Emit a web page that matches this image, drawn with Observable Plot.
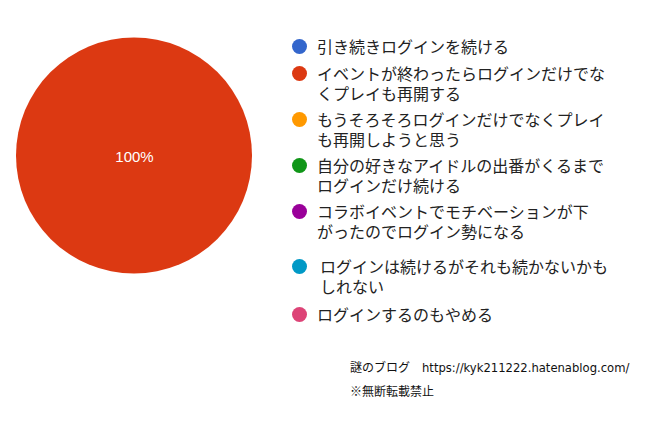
<!DOCTYPE html>
<html>
<head>
<meta charset="utf-8">
<script src="https://cdn.jsdelivr.net/npm/d3@7"></script>
<script src="https://cdn.jsdelivr.net/npm/@observablehq/plot@0.6"></script>
<style>
  html, body { margin: 0; padding: 0; background: #fff; }
  #wrap { position: relative; width: 655px; height: 421px; overflow: hidden; }
  #pie { position: absolute; left: 0; top: 0; }
  .item { position: absolute; left: 292px; display: flex; align-items: flex-start;
          font-family: "Noto Sans CJK JP", "Noto Sans", sans-serif; font-size: 16px;
          line-height: 20px; color: #222; white-space: pre-line; }
  .dot { width: 15px; height: 15px; border-radius: 50%; margin-top: 2.5px; margin-right: 10px; flex: none; }
  .caption { position: absolute; left: 350px; font-family: "Noto Sans CJK JP", sans-serif;
             font-size: 12px; color: #111; white-space: pre; }
  .caption .latin { font-family: "DejaVu Sans", sans-serif; font-size: 11.6px; }
</style>
</head>
<body>
<div id="wrap"><div id="pie"></div></div>
<script>
// ---- data ----
const categories = [
  "引き続きログインを続ける",
  "イベントが終わったらログインだけでな\nくプレイも再開する",
  "もうそろそろログインだけでなくプレイ\nも再開しようと思う",
  "自分の好きなアイドルの出番がくるまで\nログインだけ続ける",
  "コラボイベントでモチベーションが下\nがったのでログイン勢になる",
  "ログインは続けるがそれも続かないかも\nしれない",
  "ログインするのもやめる"
];
const values = [0, 100, 0, 0, 0, 0, 0];
const colors = ["#3366cc", "#dc3912", "#ff9900", "#109618", "#990099", "#0099c6", "#dd4477"];
const captionLines = ["謎のブログ　https://kyk211222.hatenablog.com/", "※無断転載禁止"];

// ---- pie geometry from data ----
const total = d3.sum(values);
const arcs = d3.pie().sort(null).value(d => d.value)(
  categories.map((c, i) => ({ category: c, value: values[i], color: colors[i] }))
);
const slices = arcs.filter(a => a.value > 0).map(a => {
  const frac = a.value / total;
  const mid = (a.startAngle + a.endAngle) / 2;
  const lx = frac >= 1 ? 0 : Math.sin(mid) * 0.6;
  const ly = frac >= 1 ? 0 : Math.cos(mid) * 0.6;
  return { ...a, lx, ly, label: Math.round(frac * 100) + "%" };
});

function pieMark(index, scales) {
  const g = d3.create("svg:g");
  const cx = scales.x(0), cy = scales.y(0);
  const r = Math.abs(scales.x(1) - scales.x(0));
  const arc = d3.arc().innerRadius(0).outerRadius(r);
  g.selectAll("path").data(slices).join("path")
    .attr("transform", `translate(${cx},${cy})`)
    .attr("d", d => arc(d))
    .attr("fill", d => d.data.color)
    .attr("stroke", "none");
  return g.node();
}

const chart = Plot.plot({
  width: 268,
  height: 311,
  margin: 0,
  x: { domain: [-1, 1], range: [16, 252], axis: null },
  y: { domain: [-1, 1], range: [273.5, 37.5], axis: null },
  style: { background: "transparent", overflow: "visible" },
  marks: [
    pieMark,
    Plot.text(slices, {
      x: "lx", y: "ly", text: "label", fill: "#fff",
      fontSize: 15, fontFamily: "Liberation Sans, Arial, sans-serif", dy: 1
    })
  ]
});
document.getElementById("pie").appendChild(chart);

// ---- legend (HTML) ----
const wrap = document.getElementById("wrap");
const firstLineCenters = [46, 73, 119, 165, 211, 266, 314];
categories.forEach((c, i) => {
  const item = document.createElement("div");
  item.className = "item";
  item.style.top = (firstLineCenters[i] - 10) + "px";
  const dot = document.createElement("div");
  dot.className = "dot";
  dot.style.background = colors[i];
  if (i === 5) dot.style.marginRight = "13px";
  const txt = document.createElement("div");
  txt.textContent = c;
  item.appendChild(dot);
  item.appendChild(txt);
  wrap.appendChild(item);
});
captionLines.forEach((t, i) => {
  const el = document.createElement("div");
  el.className = "caption";
  el.style.top = (358 + i * 24) + "px";
  t.split(/([\x21-\x7e]+)/).forEach(part => {
    if (!part) return;
    const s = document.createElement("span");
    if (/^[\x21-\x7e]+$/.test(part)) s.className = "latin";
    s.textContent = part;
    el.appendChild(s);
  });
  wrap.appendChild(el);
});
</script>
</body>
</html>
